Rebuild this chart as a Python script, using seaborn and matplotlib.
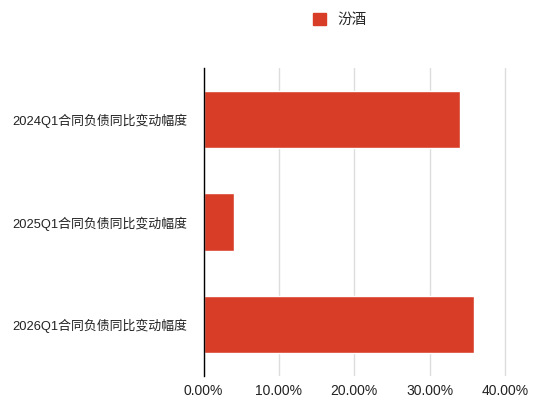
import matplotlib
matplotlib.use("Agg")
import matplotlib.pyplot as plt
import matplotlib.ticker as mticker
from matplotlib.patches import Patch
import pandas as pd
import seaborn as sns

categories = ['2024Q1合同负债同比变动幅度', '2025Q1合同负债同比变动幅度', '2026Q1合同负债同比变动幅度']
values = [0.340, 0.040, 0.359]
series_name = '汾酒'
bar_color = '#D83D27'

sns.set_style('white')
plt.rcParams['font.family'] = ['Liberation Sans', 'Noto Sans CJK SC', 'DejaVu Sans']

df = pd.DataFrame({'cat': categories, 'val': values})

fig = plt.figure(figsize=(5.5, 4.05), dpi=100)
ax = fig.add_axes([0.370, 0.072, 0.617, 0.760])

sns.barplot(data=df, x='val', y='cat', orient='h', color=bar_color,
            width=0.56, saturation=1, ax=ax)

ax.set_xlim(0, 0.45)
ax.set_xticks([0, 0.1, 0.2, 0.3, 0.4])
ax.xaxis.set_major_formatter(mticker.FuncFormatter(lambda v, p: f'{v*100:.2f}%'))
ax.grid(axis='x', color='#dddddd', linewidth=1)
ax.set_axisbelow(True)
ax.set_xlabel('')
ax.set_ylabel('')
for s in ['top', 'right', 'bottom']:
    ax.spines[s].set_visible(False)
ax.spines['left'].set_color('black')
ax.spines['left'].set_linewidth(1)
ax.tick_params(axis='y', length=0, labelsize=9.3, colors='#222222', pad=12)
ax.tick_params(axis='x', length=0, labelsize=10, colors='#222222', pad=6)

fig.legend(handles=[Patch(color=bar_color, label=series_name)],
           loc='center', bbox_to_anchor=(0.618, 0.95), frameon=False,
           fontsize=10.5, handlelength=0.9, handleheight=0.9)

fig.savefig('out.png', dpi=100)
